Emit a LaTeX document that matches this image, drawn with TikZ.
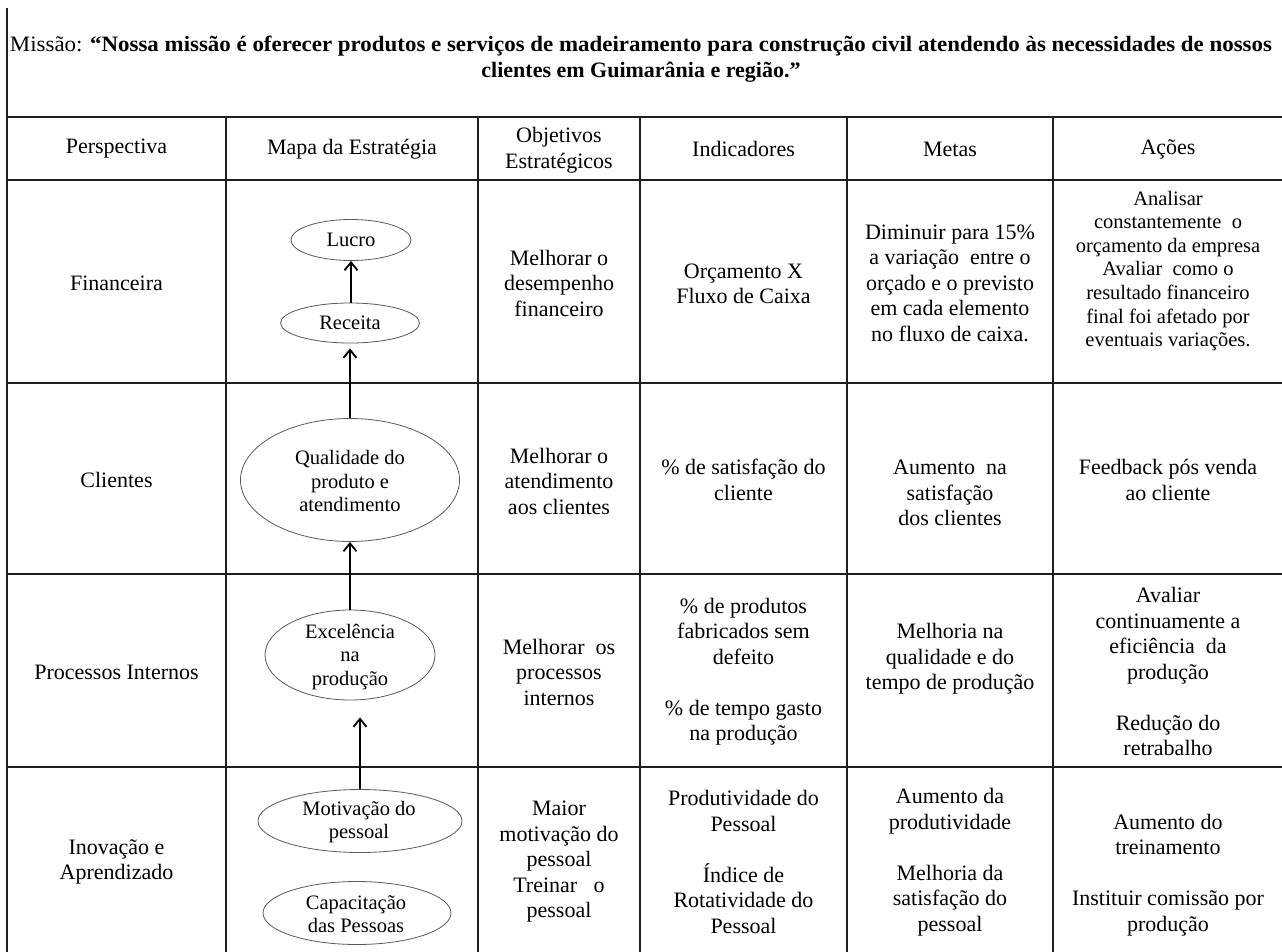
\documentclass[tikz,border=0pt]{standalone}
\usepackage{fontspec}
\usepackage{graphicx}
\setmainfont{Liberation Serif}
\usetikzlibrary{arrows.meta,shapes.geometric}
\begin{document}
\begin{tikzpicture}[x=1pt,y=-1pt,
  grid/.style={line width=1.8pt,draw=black!88},
  cell/.style={align=center,inner sep=0pt,font=\fontsize{22}{25.5}\selectfont},
  small/.style={align=center,inner sep=0pt,font=\fontsize{20.5}{23.6}\selectfont},
  oval/.style={ellipse,draw=black!65,line width=0.8pt,inner sep=0pt},
  ovtxt/.style={align=center,inner sep=0pt,font=\fontsize{20.5}{23.5}\selectfont},
  conn/.style={line width=1.8pt,draw=black,-{Straight Barb[length=8pt,width=13pt]}}]
\path[use as bounding box,fill=white] (0,0) rectangle (1282,952);
% grid
\draw[grid] (7,8) -- (7,952);
\foreach \yy in {117,180,383,574,767} {\draw[grid] (7,\yy) -- (1282,\yy);}
\foreach \xx in {226,478,640,847,1053} {\draw[grid] (\xx,117) -- (\xx,952);}
% mission
\node[cell,font=\fontsize{22}{26}\selectfont] (mis) at (641,59) {\resizebox{1262pt}{\height}{Missão: \textbf{“Nossa missão é oferecer produtos e serviços de madeiramento para construção civil atendendo às necessidades de nossos}}\\ \textbf{clientes em Guimarânia e região.”}};
% header
\node[cell] (h1) at (116.5,149) {Perspectiva};
\node[cell] (h2) at (352,149) {Mapa da Estratégia};
\node[cell] (h3) at (559,150) {Objetivos\\Estratégicos};
\node[cell] (h4) at (743.5,149) {Indicadores};
\node[cell] (h5) at (950,149) {Metas};
\node[cell] (h6) at (1168,149) {Ações};
% row 1
\node[cell] (p1) at (116.5,283) {Financeira};
\node[cell] (o1) at (559,283) {Melhorar o\\desempenho\\financeiro};
\node[cell] (i1) at (743.5,284) {Orçamento X\\Fluxo de Caixa};
\node[cell] (m1) at (950,283) {Diminuir para 15\%\\a variação~ entre o\\orçado e o previsto\\em cada elemento\\no fluxo de caixa.};
\node[small] (a1) at (1168,271) {Analisar\\constantemente~ o\\orçamento da empresa\\Avaliar~ como o\\resultado financeiro\\final foi afetado por\\eventuais variações.};
% row 2
\node[cell] (p2) at (116.5,480) {Clientes};
\node[cell] (o2) at (559,481) {Melhorar o\\atendimento\\aos clientes};
\node[cell] (i2) at (743.5,480) {\% de satisfação do\\cliente};
\node[cell] (m2) at (950,493) {Aumento~ na\\satisfação\\dos clientes};
\node[cell] (a2) at (1168,480) {Feedback pós venda\\ao cliente};
% row 3
\node[cell] (p3) at (116.5,672) {Processos Internos};
\node[cell] (o3) at (559,672) {Melhorar~ os\\processos\\internos};
\node[cell] (i3) at (743.5,671.5) {\% de produtos\\fabricados sem\\defeito\\[25.5pt]\% de tempo gasto\\na produção};
\node[cell] (m3) at (950,659) {Melhoria na\\qualidade e do\\tempo de produção};
\node[cell] (a3) at (1168,671.5) {Avaliar\\continuamente a\\eficiência~ da\\produção\\[25.5pt]Redução do\\retrabalho};
% row 4
\node[cell] (p4) at (116.5,862) {Inovação e\\Aprendizado};
\node[cell] (o4) at (559,862) {Maior\\motivação do\\pessoal\\Treinar~~ o\\pessoal};
\node[cell] (i4) at (743.5,862) {Produtividade do\\Pessoal\\[25.5pt]Índice de\\Rotatividade do\\Pessoal};
\node[cell] (m4) at (950,862) {Aumento da\\produtividade\\[25.5pt]Melhoria da\\satisfação do\\pessoal};
\node[cell] (a4) at (1168,875) {Aumento do\\treinamento\\[25.5pt]Instituir comissão por\\produção};
% strategy map ellipses
\node[oval,minimum width=120pt,minimum height=41pt] (luc) at (351,240) {};
\node[ovtxt] at (luc) {Lucro};
\node[oval,minimum width=139pt,minimum height=40pt] (rec) at (350,323) {};
\node[ovtxt] at (rec) {Receita};
\node[oval,minimum width=219pt,minimum height=123pt] (qua) at (350,480) {};
\node[ovtxt] at (350,481) {Qualidade do\\produto e\\atendimento};
\node[oval,minimum width=170pt,minimum height=90pt] (exc) at (350,655) {};
\node[ovtxt] at (350,657) {Excelência\\na\\produção};
\node[oval,minimum width=204pt,minimum height=63pt] (mot) at (360,821) {};
\node[ovtxt] at (359,822) {Motivação do\\pessoal};
\node[oval,minimum width=188pt,minimum height=63pt] (cap) at (357,913) {};
\node[ovtxt] at (356,914) {Capacitação\\das Pessoas};
% arrows
\draw[conn] (luc.south |- rec.north) -- (luc.south);
\draw[conn,shorten >=5pt] (qua.north) -- (rec.south);
\draw[conn] (exc.north) -- (qua.south);
\draw[conn,shorten >=17pt] (mot.north) -- (mot.north |- exc.south);
\end{tikzpicture}
\end{document}
